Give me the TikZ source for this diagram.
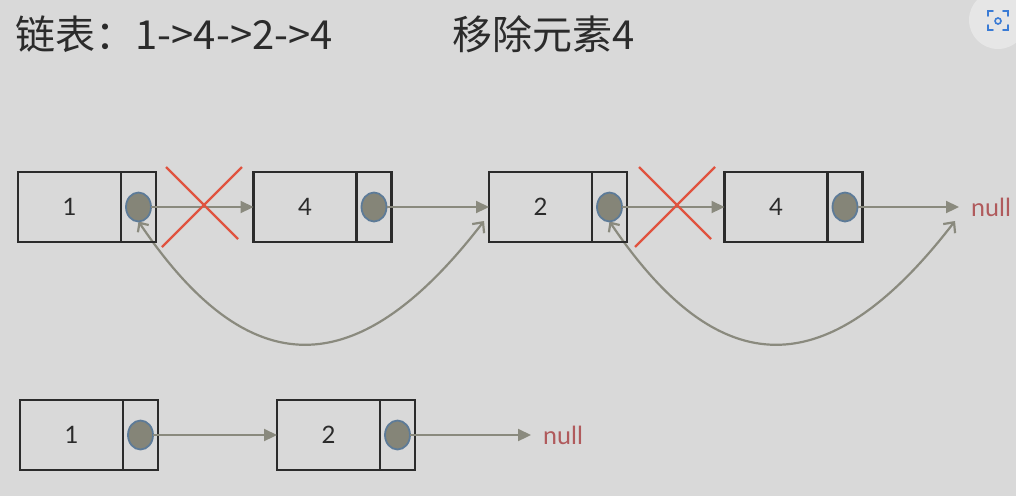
\documentclass[tikz,border=0pt]{standalone}
\usepackage{fontspec}
\setmainfont{Lato}
\newfontfamily\cjk{Noto Sans CJK SC}
\usetikzlibrary{positioning, shapes.geometric, arrows.meta}
\definecolor{bg}{HTML}{D9D9D9}
\definecolor{boxline}{HTML}{2B2B2B}
\definecolor{ptrfill}{HTML}{858578}
\definecolor{ptrline}{HTML}{5D7B98}
\definecolor{arrowgray}{HTML}{8A8A7E}
\definecolor{crossred}{HTML}{E0533F}
\definecolor{nullred}{HTML}{B05A5C}
\definecolor{iconblue}{HTML}{3A7BD5}
\pgfdeclarelayer{back}
\pgfsetlayers{back,main}
\begin{document}
\begin{tikzpicture}[x=1pt,y=-1pt,
    databox/.style={draw=boxline,line width=2.6pt,outer sep=0pt,inner sep=0pt,minimum width=103pt,minimum height=70pt,font=\fontsize{24}{24}\selectfont,text=boxline},
    ptrbox/.style={draw=boxline,line width=2.6pt,outer sep=0pt,inner sep=0pt,minimum width=35pt,minimum height=70pt},
    ptrdot/.style={ellipse,draw=ptrline,fill=ptrfill,line width=1.8pt,outer sep=0pt,inner sep=0pt,minimum width=25pt,minimum height=29pt},
    link/.style={draw=arrowgray,line width=2.2pt,-{Triangle[length=13pt,width=12pt]}},
    jump/.style={draw=arrowgray,line width=2.2pt,{Straight Barb[length=7pt,width=13pt]}-{Straight Barb[length=8pt,width=15pt]}},
    cross/.style={draw=crossred,line width=2.2pt},
    nulltext/.style={text=nullred,font=\fontsize{25}{25}\selectfont,inner sep=0pt,inner xsep=12pt,anchor=west},
    title/.style={font=\cjk\fontsize{40}{40}\selectfont,text=boxline,inner sep=0pt,anchor=base west}]
    \begin{pgfonlayer}{back}
    \fill[bg] (0,0) rectangle (1016,496);
    \end{pgfonlayer}
    \useasboundingbox (0,0) rectangle (1016,496);

    % タイトル
    \node[title] (t1) at (15.5,49) {链表：1->4->2->4};
    \node[title] (t2) at (452,49) {移除元素4};

    % 上の連結リスト
    \foreach\n/\v/\x in{1/1/18,2/4/253.5,3/2/489,4/4/724.5}{
        \node[databox,anchor=west] (d\n) at (\x,207) {\v};
        \node[ptrbox,right=0pt of d\n] (p\n) {};
        \node[ptrdot] (c\n) at (p\n.center) {};
    }
    \node[nulltext,anchor=west] (n1) at (959,207) {null};
    \draw[link] (c1.east)--(d2.west);
    \draw[link] (c2.east)--(d3.west);
    \draw[link] (c3.east)--(d4.west);
    \draw[link] (c4.east)--(c4.east-|n1.west);

    \coordinate (x1) at (204,205);%バツ印
    \coordinate (x2) at (677,205);
    \foreach\P in{x1,x2}\draw[cross] (\P)+(-38,-38)--+(34,34) (\P)+(38,-38)--+(-42,42);

    \coordinate (e1) at (484,221);
    \coordinate (e2) at (955,221);
    \begin{pgfonlayer}{back}
    \draw[jump] (c1.south) .. controls +(110,163) and +(-127,165) .. (e1);
    \draw[jump] (c3.south) .. controls +(110,163) and +(-127,165) .. (e2);
    \end{pgfonlayer}

    % 下の連結リスト
    \foreach\n/\v/\x in{1/1/20,2/2/277}{
        \node[databox,anchor=west] (bd\n) at (\x,435) {\v};
        \node[ptrbox,right=0pt of bd\n] (bp\n) {};
        \node[ptrdot] (bc\n) at (bp\n.center) {};
    }
    \node[nulltext] (n2) at (531,435) {null};
    \draw[link] (bc2.east)--(bc2.east-|n2.west);
    \draw[link] (bc1.east)--(bd2.west);

    % 右上のアイコン
    \fill[white!35!bg] (998,20) circle (29);
    \draw[iconblue,line width=1.8pt,line cap=round] (988,16)--(988,11)--(993,11) (1003,11)--(1008,11)--(1008,16) (1008,25)--(1008,30)--(1003,30) (993,30)--(988,30)--(988,25);
    \draw[iconblue,line width=1.6pt] (998,21) circle (3);
\end{tikzpicture}
\end{document}
